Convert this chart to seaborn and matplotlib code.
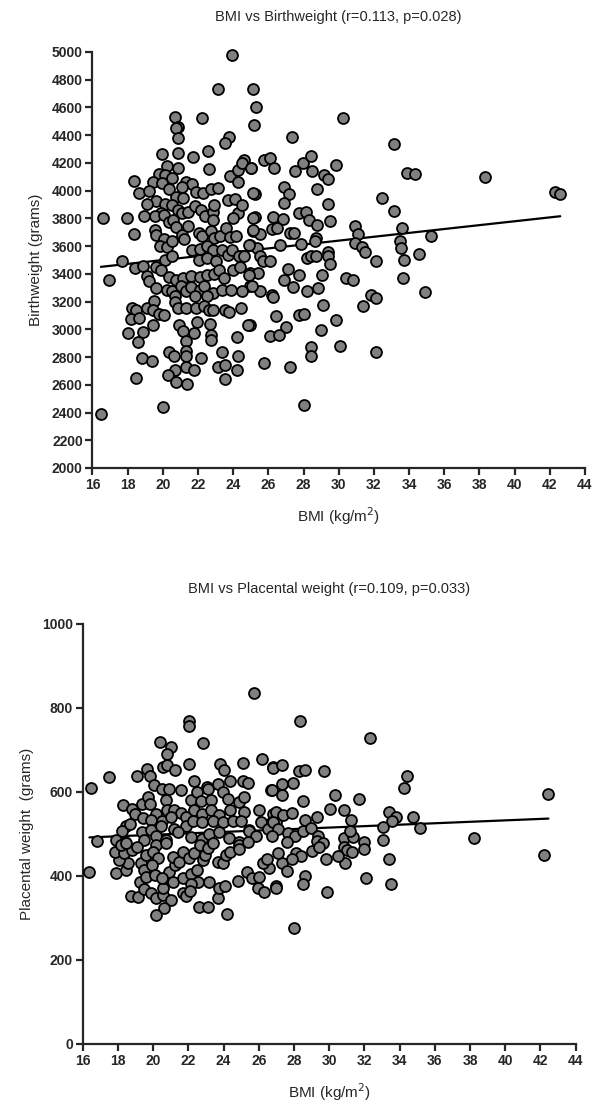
import numpy as np
import pandas as pd
import matplotlib
matplotlib.use("Agg")
import matplotlib.pyplot as plt
import seaborn as sns

# BMI vs Birthweight (top panel)
bmi_bw = [
    23.96, 23.11, 20.70, 20.89, 20.74, 20.89, 22.20, 23.77, 23.53, 19.95, 20.89, 21.69, 22.58, 24.62,
    25.10, 25.29, 25.18, 30.22, 27.37, 33.15, 25.75, 26.12, 26.31, 25.04, 27.98, 28.42, 27.51, 28.49,
    29.15, 29.40, 29.84, 33.89, 34.36, 26.90, 27.17, 25.23, 28.74, 26.88, 29.40, 32.47, 33.15,
    38.34, 42.28, 42.60,
    25.23, 26.28, 26.81, 27.75, 28.13, 25.14, 25.52, 26.18, 26.47, 27.22, 27.45, 28.32, 28.74, 29.50,
    28.70, 30.92, 31.10, 33.62, 35.27, 24.95, 25.33, 26.65, 27.85, 28.64, 30.92, 31.30, 31.48, 33.47,
    33.57, 34.57, 25.52, 25.71, 26.09, 28.21, 28.45, 28.70, 29.40, 29.40, 29.50, 32.11, 33.72, 24.95,
    25.42, 27.13, 27.75, 29.08, 30.44, 30.82, 33.66, 24.95, 25.52, 26.18, 26.24, 26.90, 27.41, 28.21,
    28.83, 31.86, 32.11, 31.39, 34.89, 29.12, 24.95, 26.43, 27.75, 28.04, 29.84, 27.00, 26.12, 26.62,
    29.02, 28.45, 28.42, 30.10, 32.15, 25.75, 27.26, 28.04,
    22.64, 20.21, 20.84, 19.76, 20.14, 18.37, 19.45, 18.62, 19.23, 19.95, 20.55, 21.31, 21.65, 21.08,
    21.88, 22.26, 22.73, 23.11, 23.81, 24.30, 24.30, 24.53, 25.00, 25.14, 20.33, 20.74, 21.12, 19.61,
    19.08, 20.14, 20.55, 20.84, 19.89, 19.57, 18.94, 16.61, 17.94, 18.37, 20.08, 20.33, 20.59, 21.08,
    21.46, 21.84, 22.16, 22.41, 22.83, 22.92, 22.83, 23.68, 24.11, 24.30, 24.00, 24.53, 25.14, 25.14,
    24.91, 19.57, 19.61, 20.74, 21.08, 21.46, 21.22, 20.08, 19.83, 20.21, 20.55, 22.03, 22.22, 22.73,
    22.92, 23.24, 23.58, 23.81, 24.15, 21.65, 22.10, 22.54, 22.86, 23.39, 23.68, 23.96, 24.34, 24.63,
    17.67, 20.14, 20.55, 22.07, 22.54, 23.01, 18.43, 18.85, 19.61, 19.89, 16.92, 19.08, 19.23, 20.36,
    20.74, 21.12, 21.59, 22.10, 22.54, 22.92, 23.20, 23.49, 24.00, 24.38, 24.91, 25.06, 19.61, 20.21,
    20.55, 21.02, 21.31, 21.59, 22.10, 22.35, 22.83, 23.39, 23.87, 24.53, 20.70, 21.84, 22.54,
    18.24, 18.47, 19.08, 19.51, 19.45, 19.76, 20.08, 20.70, 20.84, 18.19, 18.66, 19.45, 18.00, 18.85,
    18.56, 20.93, 21.16, 21.31, 21.78, 21.97, 22.67, 22.73, 22.73, 21.31, 21.88, 22.35, 22.64, 22.83,
    23.54, 23.77, 24.44, 24.87, 24.19, 20.36, 20.65, 21.31, 21.31, 22.16, 23.39, 24.30, 18.81, 19.38,
    23.11, 23.54, 24.24, 21.31, 21.78, 20.70, 20.27, 20.74, 21.40, 23.54, 18.47, 20.02, 16.48,
]
bw = [
    4981, 4732, 4533, 4461, 4449, 4377, 4521, 4389, 4341, 4264, 4274, 4245, 4288, 4221,
    4736, 4600, 4470, 4521, 4384, 4336, 4221, 4233, 4161, 4161, 4202, 4250, 4144, 4144,
    4113, 4082, 4185, 4130, 4120, 4024, 3976, 3976, 4010, 3914, 3904, 3945, 3856,
    4101, 3993, 3974,
    3813, 3808, 3794, 3837, 3849, 3712, 3688, 3722, 3729, 3698, 3698, 3789, 3753, 3784,
    3657, 3746, 3688, 3729, 3674, 3609, 3585, 3609, 3616, 3640, 3621, 3592, 3561, 3640,
    3585, 3544, 3525, 3489, 3489, 3513, 3525, 3530, 3561, 3525, 3473, 3489, 3497, 3405,
    3405, 3434, 3393, 3393, 3369, 3357, 3369, 3309, 3273, 3249, 3233, 3353, 3305, 3278,
    3295, 3249, 3225, 3170, 3266, 3178, 3034, 3094, 3103, 3111, 3065, 3017, 2950, 2957,
    2993, 2873, 2811, 2883, 2837, 2758, 2727, 2451,
    4156, 4178, 4161, 4120, 4113, 4072, 4065, 3981, 4000, 4053, 4089, 4060, 4048, 4029,
    3993, 3986, 4010, 4017, 4106, 4149, 4065, 4202, 4161, 3981, 4010, 3957, 3945, 3928,
    3904, 3904, 3897, 3861, 3837, 3818, 3818, 3801, 3801, 3686, 3825, 3777, 3789, 3837,
    3849, 3890, 3861, 3818, 3849, 3897, 3789, 3933, 3938, 3837, 3801, 3897, 3801, 3717,
    3610, 3717, 3681, 3737, 3681, 3746, 3650, 3650, 3598, 3593, 3634, 3698, 3670, 3706,
    3658, 3674, 3729, 3665, 3670, 3574, 3578, 3598, 3574, 3574, 3538, 3574, 3526, 3530,
    3490, 3502, 3526, 3502, 3514, 3490, 3442, 3458, 3449, 3425, 3353, 3382, 3346, 3377,
    3358, 3370, 3387, 3377, 3394, 3401, 3430, 3370, 3430, 3449, 3394, 3310, 3298, 3286,
    3274, 3310, 3274, 3305, 3286, 3310, 3262, 3286, 3286, 3274, 3243, 3238, 3238,
    3154, 3137, 3154, 3202, 3142, 3113, 3106, 3195, 3154, 3075, 3082, 3034, 2974, 2979,
    2910, 3034, 2986, 2914, 2974, 3051, 3041, 2962, 2921, 3154, 3154, 3166, 3137, 3142,
    3137, 3123, 3154, 3034, 2945, 2835, 2811, 2842, 2806, 2790, 2835, 2811, 2790, 2775,
    2730, 2739, 2710, 2730, 2706, 2706, 2667, 2619, 2603, 2639, 2651, 2442, 2387,
]

# BMI vs Placental weight (bottom panel)
bmi_pw = [
    25.70, 22.06, 22.02, 20.39, 21.02, 20.77, 22.82, 16.47, 17.51, 19.07, 19.64, 19.82, 20.58, 20.77,
    21.26, 22.02, 23.80, 24.05, 25.09, 26.19, 26.79, 20.07, 20.51, 20.92, 21.59, 22.34, 23.04, 23.67,
    24.37, 25.13, 25.37, 26.70, 18.27, 18.80, 19.37, 19.69, 19.82, 20.73, 20.77, 18.99, 19.41, 20.17,
    21.21, 21.59, 22.15, 22.48, 22.72, 23.10, 23.29, 23.95, 24.24, 24.90, 25.18, 26.00, 26.79, 19.88,
    20.51, 21.02, 21.87, 22.34, 22.78, 23.29, 23.73, 24.37, 25.18, 18.46, 18.23, 18.69, 19.37, 19.88,
    20.45, 21.21, 21.87, 22.29, 22.78, 23.38, 23.95, 24.52, 24.99, 25.47, 26.13, 26.76, 16.79, 17.89,
    18.42, 19.50, 20.17, 20.73, 21.40, 22.15, 22.78, 23.20, 23.76, 24.33, 24.90, 25.47, 25.85, 26.51,
    26.95,
    16.38, 17.89, 18.46, 18.56, 18.04, 17.85, 18.37, 18.80, 19.07, 18.18, 18.46, 20.17, 20.73, 19.31,
    19.50, 19.26, 19.60, 20.01, 20.26, 19.94, 19.60, 20.13, 18.74, 19.12, 19.50, 19.88, 20.17, 20.58,
    20.58, 20.73, 20.92, 21.26, 21.15, 21.49, 21.72, 22.06, 22.34, 22.67, 22.82, 22.97, 23.10, 23.38,
    23.67, 23.95, 24.14, 24.37, 24.86, 24.90, 25.37, 21.11, 20.51, 21.68, 22.15, 22.48, 22.53, 23.16,
    22.15, 21.68, 21.87, 22.10, 21.02, 20.64, 20.17, 22.63, 23.10, 23.67, 23.73, 24.10, 24.18, 24.81,
    25.32, 25.62, 26.00, 25.94, 26.32, 26.57, 26.23, 26.45, 26.95,
    28.34, 32.32, 26.79, 27.30, 28.31, 28.63, 29.71, 34.44, 34.22, 42.45, 27.30, 27.97, 26.73, 27.30,
    28.53, 30.33, 31.72, 30.05, 30.84, 26.98, 27.36, 27.87, 28.63, 29.29, 31.22, 33.42, 33.80, 33.55,
    34.78, 35.16, 33.04, 26.83, 27.11, 27.68, 28.06, 28.53, 28.95, 29.39, 29.29, 29.67, 30.84, 31.37,
    31.18, 31.98, 33.08, 38.23, 26.73, 27.59, 30.84,
    27.00, 28.60, 28.50, 29.90, 30.90, 31.00, 31.30, 32.10, 33.40, 33.50, 42.20, 28.00, 29.00, 29.40,
    28.10, 28.40, 27.30, 27.60, 27.90, 30.50, 29.80, 27.10, 32.00,
]
pw = [
    836, 769, 758, 719, 708, 691, 716, 610, 635, 639, 655, 639, 659, 663,
    653, 667, 667, 653, 669, 679, 659, 616, 608, 608, 605, 626, 612, 620,
    626, 626, 621, 605, 568, 560, 572, 589, 572, 580, 558, 548, 539, 548,
    556, 550, 581, 600, 578, 608, 580, 600, 584, 576, 589, 558, 548, 534,
    532, 540, 540, 556, 548, 558, 544, 556, 552, 518, 507, 523, 504, 510,
    520, 512, 520, 532, 528, 532, 528, 532, 532, 510, 528, 528, 483, 485,
    481, 485, 496, 486, 504, 492, 488, 500, 504, 491, 481, 508, 496, 512,
    528,
    409, 406, 414, 430, 438, 458, 454, 462, 470, 474, 478, 474, 478, 430,
    414, 386, 450, 458, 442, 426, 398, 402, 353, 351, 369, 359, 347, 355,
    371, 396, 410, 426, 446, 434, 458, 442, 454, 474, 438, 450, 466, 478,
    434, 430, 450, 458, 474, 464, 482, 386, 396, 396, 404, 414, 386, 386,
    382, 359, 353, 364, 343, 323, 307, 325, 325, 348, 372, 375, 309, 388,
    409, 396, 398, 371, 361, 420, 430, 440, 377,
    770, 729, 658, 663, 650, 653, 649, 639, 610, 596, 619, 621, 605, 592,
    578, 593, 584, 560, 558, 552, 544, 550, 534, 540, 534, 552, 540, 531,
    540, 514, 516, 528, 512, 502, 496, 508, 515, 496, 483, 478, 491, 492,
    507, 480, 485, 491, 496, 480, 470,
    372, 400, 382, 362, 430, 462, 458, 395, 440, 380, 450, 275, 460, 468,
    455, 448, 430, 412, 440, 448, 440, 455, 465,
]

top = pd.DataFrame({"bmi": bmi_bw, "weight": bw})
bottom = pd.DataFrame({"bmi": bmi_pw, "weight": pw})

sns.set_style("ticks")
plt.rcParams["font.family"] = ["Liberation Sans", "DejaVu Sans"]

fig = plt.figure(figsize=(5.99, 11.10), dpi=100)
ax1 = fig.add_axes([0.1544, 0.5784, 0.822, 0.3748])
ax2 = fig.add_axes([0.1381, 0.0595, 0.823, 0.3784])

panels = [
    (ax1, top, "BMI vs Birthweight (r=0.113, p=0.028)", "Birthweight (grams)",
     (2000, 5000), np.arange(2000, 5001, 200)),
    (ax2, bottom, "BMI vs Placental weight (r=0.109, p=0.033)", "Placental weight  (grams)",
     (0, 1000), np.arange(0, 1001, 200)),
]

for ax, df, title, ylab, ylim, yticks in panels:
    sns.scatterplot(data=df, x="bmi", y="weight", ax=ax, color="#808080",
                    edgecolor="black", linewidth=1.3, s=62, clip_on=False, zorder=3)
    sns.regplot(data=df, x="bmi", y="weight", ax=ax, scatter=False, ci=None,
                color="black", line_kws={"linewidth": 1.6, "zorder": 2})
    ax.set_xlim(16, 44)
    ax.set_ylim(*ylim)
    ax.set_xticks(np.arange(16, 45, 2))
    ax.set_yticks(yticks)
    ax.set_title(title, fontsize=10.5, pad=22)
    ax.set_xlabel("BMI (kg/m$^2$)", fontsize=11, labelpad=10)
    ax.set_ylabel(ylab, fontsize=11, labelpad=6)
    sns.despine(ax=ax)
    for side in ["left", "bottom"]:
        ax.spines[side].set_linewidth(1.6)
    ax.tick_params(width=1.6, length=5, labelsize=10, pad=2)
    for lab in ax.get_xticklabels() + ax.get_yticklabels():
        lab.set_fontweight("bold")

fig.savefig("out.png", dpi=100)
